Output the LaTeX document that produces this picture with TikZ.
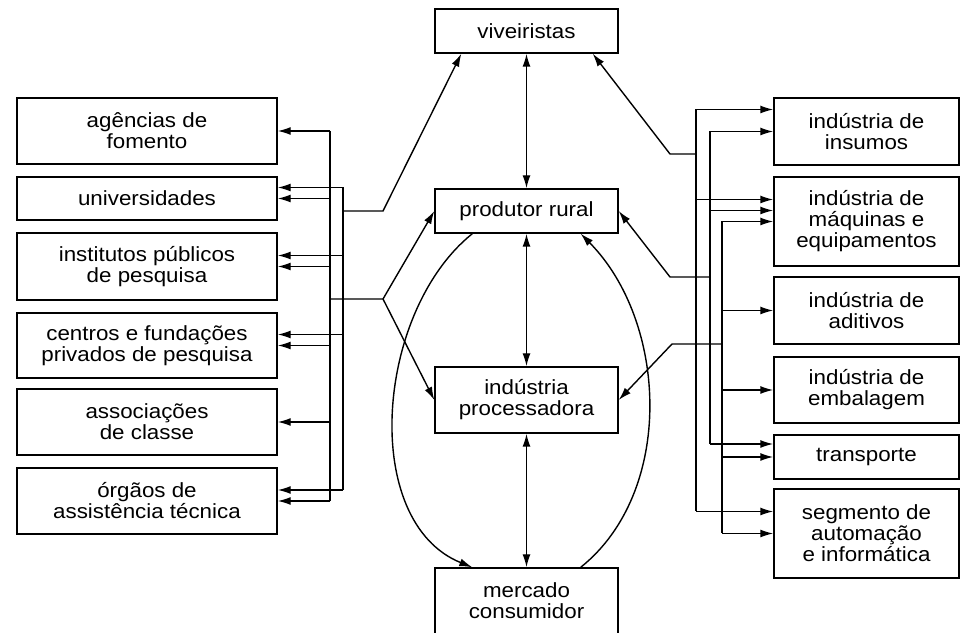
\documentclass[tikz,border=0pt]{standalone}
\usepackage{fontspec}
\setmainfont{Liberation Sans}[FakeStretch=1.09]
\usepackage{tikz}
\usetikzlibrary{arrows.meta, positioning, calc}
\tikzstyle{box} = [rectangle, draw, line width=1.4pt, align=center, inner sep=0pt, font=\fontsize{20.5}{21}\selectfont]
\tikzstyle{lbox} = [box, minimum width=260pt]
\tikzstyle{cbox} = [box, minimum width=183pt]
\tikzstyle{rbox} = [box, minimum width=185pt]
\tikzstyle{line} = [draw, line width=1.4pt]
\tikzstyle{arrow} = [draw, line width=1.4pt, -{Latex[length=13pt,width=8pt]}]
\tikzstyle{biarrow} = [draw, line width=1.4pt, {Latex[length=13pt,width=8pt]}-{Latex[length=13pt,width=8pt]}]

\begin{document}
\begin{tikzpicture}[x=1pt, y=1pt]
    \useasboundingbox (0,0) rectangle (961,632);

    % left column
    \node (fomento) [lbox, minimum height=66pt] at (147,501) {agências de\\fomento};
    \node (univ) [lbox, minimum height=43pt] at (147,433.5) {universidades};
    \node (institutos) [lbox, minimum height=67pt] at (147,365.5) {institutos públicos\\de pesquisa};
    \node (centros) [lbox, minimum height=65pt] at (147,286.5) {centros e fundações\\privados de pesquisa};
    \node (assoc) [lbox, minimum height=66pt] at (147,210) {associações\\de classe};
    \node (orgaos) [lbox, minimum height=66pt] at (147,131) {órgãos de\\assistência técnica};

    % central chain
    \node (viveiristas) [cbox, minimum height=44pt] at (526.5,601) {viveiristas};
    \node (produtor) [cbox, minimum height=44pt] at (526.5,421) {produtor rural};
    \node (processadora) [cbox, minimum height=66pt] at (526.5,232) {indústria\\processadora};
    \node (mercado) [cbox, minimum height=66pt] at (526.5,31) {mercado\\consumidor};

    % right column
    \node (insumos) [rbox, minimum height=67pt] at (866.5,500.5) {indústria de\\insumos};
    \node (maquinas) [rbox, minimum height=89pt] at (866.5,410.5) {indústria de\\máquinas e\\equipamentos};
    \node (aditivos) [rbox, minimum height=67pt] at (866.5,321.5) {indústria de\\aditivos};
    \node (embalagem) [rbox, minimum height=66pt] at (866.5,242) {indústria de\\embalagem};
    \node (transporte) [rbox, minimum height=44pt] at (866.5,175) {transporte};
    \node (segmento) [rbox, minimum height=89pt] at (866.5,98.5) {segmento de\\automação\\e informática};

    % bus lines and bends
    \coordinate (lbusA) at (330,0);
    \coordinate (lbusB) at (343,0);
    \coordinate (rbusA) at (696,0);
    \coordinate (rbusB) at (710,0);
    \coordinate (rbusC) at (722,0);
    \coordinate (kvl) at (383,421);
    \coordinate (kpl) at (383,333);
    \coordinate (kvr) at (670,478);
    \coordinate (kpr) at (670,355);
    \coordinate (kir) at (672,288);

    % center links
    \draw [biarrow] (viveiristas) -- (produtor);
    \draw [biarrow] (produtor) -- (processadora);
    \draw [biarrow] (processadora) -- (mercado);
    \draw [arrow] ([xshift=38pt]produtor.south west) .. controls (375,320) and (360,110) .. ([xshift=38pt]mercado.north west);
    \draw [arrow] ([xshift=-38pt]mercado.north east) .. controls (675,140) and (668,310) .. ([xshift=-38pt]produtor.south east);

    % left side
    \draw [line] (lbusA |- fomento.east) -- (lbusA |- orgaos.east);
    \draw [line] ([yshift=11pt]univ.east -| lbusB) -- ([yshift=11pt]orgaos.east -| lbusB);
    \draw [arrow] (lbusA |- fomento.east) -- (fomento.east);
    \draw [arrow] (lbusA |- univ.east) -- (univ.east);
    \draw [arrow] (lbusA |- institutos.east) -- (institutos.east);
    \draw [arrow] (lbusA |- centros.east) -- (centros.east);
    \draw [arrow] (lbusA |- assoc.east) -- (assoc.east);
    \draw [arrow] (lbusA |- orgaos.east) -- (orgaos.east);
    \draw [arrow] ([yshift=11pt]univ.east -| lbusB) -- ([yshift=11pt]univ.east);
    \draw [arrow] ([yshift=11pt]institutos.east -| lbusB) -- ([yshift=11pt]institutos.east);
    \draw [arrow] ([yshift=11pt]centros.east -| lbusB) -- ([yshift=11pt]centros.east);
    \draw [arrow] ([yshift=11pt]orgaos.east -| lbusB) -- ([yshift=11pt]orgaos.east);
    \draw [arrow] (lbusB |- kvl) -- (kvl) -- ([xshift=27pt]viveiristas.south west);
    \draw [arrow] (lbusA |- kpl) -- (kpl) -- (produtor.west);
    \draw [arrow] (kpl) -- (processadora.west);

    % right side
    \draw [line] ([yshift=22pt]insumos.west -| rbusA) -- ([yshift=22pt]segmento.west -| rbusA);
    \draw [line] (rbusB |- insumos.west) -- ([yshift=13pt]transporte.west -| rbusB);
    \draw [line] (rbusC |- maquinas.west) -- (rbusC |- segmento.west);
    \draw [arrow] ([yshift=22pt]insumos.west -| rbusA) -- ([yshift=22pt]insumos.west);
    \draw [arrow] (rbusB |- insumos.west) -- (insumos.west);
    \draw [arrow] ([yshift=22pt]maquinas.west -| rbusA) -- ([yshift=22pt]maquinas.west);
    \draw [arrow] ([yshift=11pt]maquinas.west -| rbusB) -- ([yshift=11pt]maquinas.west);
    \draw [arrow] (rbusC |- maquinas.west) -- (maquinas.west);
    \draw [arrow] (rbusC |- aditivos.west) -- (aditivos.west);
    \draw [arrow] (rbusC |- embalagem.west) -- (embalagem.west);
    \draw [arrow] ([yshift=13pt]transporte.west -| rbusB) -- ([yshift=13pt]transporte.west);
    \draw [arrow] (rbusC |- transporte.west) -- (transporte.west);
    \draw [arrow] ([yshift=22pt]segmento.west -| rbusA) -- ([yshift=22pt]segmento.west);
    \draw [arrow] (rbusC |- segmento.west) -- (segmento.west);
    \draw [arrow] (rbusA |- kvr) -- (kvr) -- ([xshift=-26pt]viveiristas.south east);
    \draw [arrow] (rbusB |- kpr) -- (kpr) -- (produtor.east);
    \draw [arrow] (rbusC |- kir) -- (kir) -- (processadora.east);
\end{tikzpicture}
\end{document}
